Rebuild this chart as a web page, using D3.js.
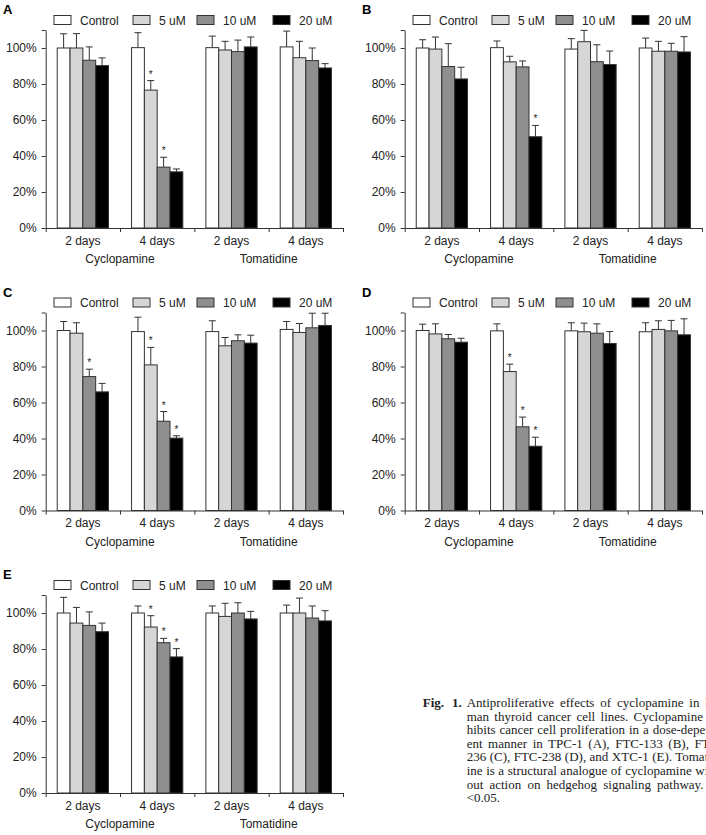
<!DOCTYPE html>
<html>
<head>
<meta charset="utf-8">
<script src="https://d3js.org/d3.v7.min.js"></script>
<style>
  html, body { margin: 0; padding: 0; background: #fff; overflow: hidden; }
  svg { display: block; }
  .axis path, .axis line { stroke: #333; }
  .axis text { font-family: "Liberation Sans", Arial, sans-serif; font-size: 12px; fill: #222; }
</style>
</head>
<body>
<svg id="chart" width="706" height="835"></svg>
<script>
var series = ["Control", "5 uM", "10 uM", "20 uM"];
var groups = ["2 days", "4 days", "2 days", "4 days"];
var treatments = ["Cyclopamine", "Tomatidine"];
var yTicks = [0, 20, 40, 60, 80, 100, 110];

// rows = groups (Cyc 2d, Cyc 4d, Tom 2d, Tom 4d), columns = series
var valuesA = [[100, 100, 93.2, 90.2], [100.2, 76.6, 33.8, 31.2], [100.2, 98.9, 98, 100.6], [100.6, 94.6, 93, 88.9]];
var errorsA = [[7.9, 8, 7.4, 4.3], [8.3, 5.3, 5.5, 1.6], [6.4, 4.8, 6.4, 5.5], [8.8, 9.1, 7, 2.4]];
var starsA  = [[0, 0, 0, 0], [0, 1, 1, 0], [0, 0, 0, 0], [0, 0, 0, 0]];

var valuesB = [[100, 99.4, 89.7, 82.8], [100.2, 92.3, 89.5, 50.7], [99.4, 103.5, 92.4, 90.8], [100, 98.2, 98.2, 97.8]];
var errorsB = [[4.6, 6.7, 12.7, 6.5], [3.7, 3.1, 3.3, 6.3], [5.8, 6.3, 9.4, 7.5], [5.5, 5.5, 4.4, 8.5]];
var starsB  = [[0, 0, 0, 0], [0, 0, 0, 1], [0, 0, 0, 0], [0, 0, 0, 0]];

var valuesC = [[100, 98.5, 74.4, 65.9], [99.4, 80.9, 49.6, 40.2], [99.4, 91.5, 94.3, 93], [100.6, 98.9, 101.5, 102.8]];
var errorsC = [[5, 5.8, 4.1, 4.7], [8, 9.7, 5.4, 1.3], [6, 4.6, 3.3, 4.4], [4.4, 5, 8.1, 6.8]];
var starsC  = [[0, 0, 1, 0], [0, 1, 1, 1], [0, 0, 0, 0], [0, 0, 0, 0]];

var valuesD = [[100, 98.1, 95.4, 93.5], [99.8, 77.2, 46.5, 35.7], [99.8, 99.3, 98.5, 92.8], [99.3, 100.6, 99.8, 97.6]];
var errorsD = [[3.5, 5.6, 2.4, 2.2], [3.9, 4.1, 5.4, 5], [4.5, 4.8, 5.2, 6.6], [5, 4.8, 5.8, 8.9]];
var starsD  = [[0, 0, 0, 0], [0, 1, 1, 1], [0, 0, 0, 0], [0, 0, 0, 0]];

var valuesE = [[100, 94.4, 93.1, 89.6], [100, 92.2, 83.5, 75.6], [100, 98.1, 100, 96.7], [100, 100, 97.2, 95.6]];
var errorsE = [[8.7, 8.7, 7.5, 4.8], [3.9, 6.3, 2.4, 4.6], [3.9, 7.3, 5.7, 4.2], [4.4, 8.3, 6.7, 5.7]];
var starsE  = [[0, 0, 0, 0], [0, 1, 1, 1], [0, 0, 0, 0], [0, 0, 0, 0]];

var captionLines = [
  "Antiproliferative effects of cyclopamine in hu-",
  "man thyroid cancer cell lines. Cyclopamine in-",
  "hibits cancer cell proliferation in a dose-depend-",
  "ent manner in TPC-1 (A), FTC-133 (B), FTC-",
  "236 (C), FTC-238 (D), and XTC-1 (E). Tomatid-",
  "ine is a structural analogue of cyclopamine with-",
  "out action on hedgehog signaling pathway. *p",
  "<0.05."
];

var colors = ["#ffffff", "#d6d6d6", "#8f8f8f", "#000000"];

var panels = [
  { label: "A", values: valuesA, errors: errorsA, stars: starsA, x: 0, y: 0 },
  { label: "B", values: valuesB, errors: errorsB, stars: starsB, x: 359, y: 0 },
  { label: "C", values: valuesC, errors: errorsC, stars: starsC, x: 0, y: 282.5 },
  { label: "D", values: valuesD, errors: errorsD, stars: starsD, x: 359, y: 282.5 },
  { label: "E", values: valuesE, errors: errorsE, stars: starsE, x: 0, y: 565 }
];

var svg = d3.select("#chart");

// panel geometry (shared)
var plotLeft = 45.7, plotRight = 343, plotTop = 30, plotBottom = 228;

var y = d3.scaleLinear().domain([0, 110]).range([plotBottom, plotTop]);
var x0 = d3.scaleBand().domain(d3.range(groups.length)).range([plotLeft, plotRight]).padding(0);
var x1 = d3.scaleBand().domain(d3.range(series.length)).range([0, x0.bandwidth()])
  .paddingInner(0).paddingOuter(0.9);
var xb = d3.scaleLinear().domain([0, groups.length]).range([plotLeft, plotRight]);

function barCenter(d) { return x0(d.g) + x1(d.s) + x1.bandwidth() / 2; }

function drawPanel(p) {
  var g = svg.append("g").attr("transform", "translate(" + p.x + "," + p.y + ")");

  // panel letter
  g.append("text")
    .attr("x", 3).attr("y", 14)
    .attr("font-family", "Liberation Sans, Arial, sans-serif")
    .attr("font-weight", "bold").attr("font-size", "13px")
    .text(p.label);

  // legend
  var leg = g.selectAll(".leg").data(series).enter().append("g")
    .attr("transform", function (d, i) { return "translate(" + [54, 133, 197, 273][i] + ",15.5)"; });
  leg.append("rect")
    .attr("width", 17).attr("height", 9)
    .attr("fill", function (d, i) { return colors[i]; })
    .attr("stroke", "#333").attr("stroke-width", 1);
  leg.append("text")
    .attr("x", 26).attr("y", 9)
    .attr("font-family", "Liberation Sans, Arial, sans-serif")
    .attr("font-size", "12px").attr("fill", "#222")
    .text(function (d) { return d; });

  var cells = [];
  p.values.forEach(function (row, gi) {
    row.forEach(function (v, si) {
      cells.push({ g: gi, s: si, v: v, e: p.errors[gi][si], star: p.stars[gi][si] });
    });
  });

  var cell = g.selectAll(".cell").data(cells).enter().append("g");

  // error bars (upper whisker only)
  cell.append("line")
    .attr("x1", barCenter).attr("x2", barCenter)
    .attr("y1", function (d) { return y(d.v); })
    .attr("y2", function (d) { return y(d.v + d.e); })
    .attr("stroke", "#333").attr("stroke-width", 1);
  cell.append("line")
    .attr("x1", function (d) { return barCenter(d) - 3.5; })
    .attr("x2", function (d) { return barCenter(d) + 3.5; })
    .attr("y1", function (d) { return y(d.v + d.e); })
    .attr("y2", function (d) { return y(d.v + d.e); })
    .attr("stroke", "#333").attr("stroke-width", 1);

  // bars
  cell.append("rect")
    .attr("x", function (d) { return x0(d.g) + x1(d.s); })
    .attr("y", function (d) { return y(d.v); })
    .attr("width", x1.bandwidth())
    .attr("height", function (d) { return y(0) - y(d.v); })
    .attr("fill", function (d) { return colors[d.s]; })
    .attr("stroke", "#333").attr("stroke-width", 1);

  // significance marks
  cell.filter(function (d) { return d.star; }).append("text")
    .attr("x", barCenter)
    .attr("y", function (d) { return y(d.v + d.e) - 3; })
    .attr("text-anchor", "middle")
    .attr("font-family", "Liberation Sans, Arial, sans-serif")
    .attr("font-size", "10px").attr("fill", "#222")
    .text("*");

  // y axis
  g.append("g").attr("class", "axis")
    .attr("transform", "translate(" + plotLeft + ",0)")
    .call(d3.axisLeft(y).tickValues(yTicks).tickSize(4).tickSizeOuter(0).tickPadding(5)
      .tickFormat(function (d) { return d === 110 ? "" : d + "%"; }));

  // x axis line with group boundary ticks
  g.append("g").attr("class", "axis")
    .attr("transform", "translate(0," + plotBottom + ")")
    .call(d3.axisBottom(xb).tickValues(d3.range(groups.length + 1)).tickSize(4).tickSizeOuter(0)
      .tickFormat(""));

  // group labels
  var gl = g.append("g").attr("class", "axis")
    .attr("transform", "translate(0," + plotBottom + ")")
    .call(d3.axisBottom(x0).tickSize(0).tickPadding(8)
      .tickFormat(function (i) { return groups[i]; }));
  gl.select(".domain").remove();

  // treatment labels
  g.selectAll(".treat").data(treatments).enter().append("text")
    .attr("x", function (d, i) { return xb(i * 2 + 1); })
    .attr("y", 263)
    .attr("text-anchor", "middle")
    .attr("font-family", "Liberation Sans, Arial, sans-serif")
    .attr("font-size", "12px").attr("fill", "#222")
    .text(function (d) { return d; });
}

panels.forEach(drawPanel);

// figure caption (justified lines, clipped by the page edge as in the source)
var cap = svg.append("g").attr("font-family", "Liberation Serif, Times New Roman, serif")
  .attr("font-size", "13px").attr("fill", "#222");
cap.append("text").attr("x", 422.7).attr("y", 707).attr("font-weight", "bold").text("Fig.");
cap.append("text").attr("x", 452).attr("y", 707).attr("font-weight", "bold").text("1.");
var lineW = 256;
captionLines.forEach(function (line, i) {
  var t = cap.append("text").attr("x", 466.7).attr("y", 707 + i * 13.6).text(line);
  if (i < captionLines.length - 1) {
    var spaces = line.split(" ").length - 1;
    var natural = t.node().getComputedTextLength();
    if (spaces > 0) t.attr("word-spacing", Math.max(0, (lineW - natural) / spaces));
  }
});
</script>
</body>
</html>
